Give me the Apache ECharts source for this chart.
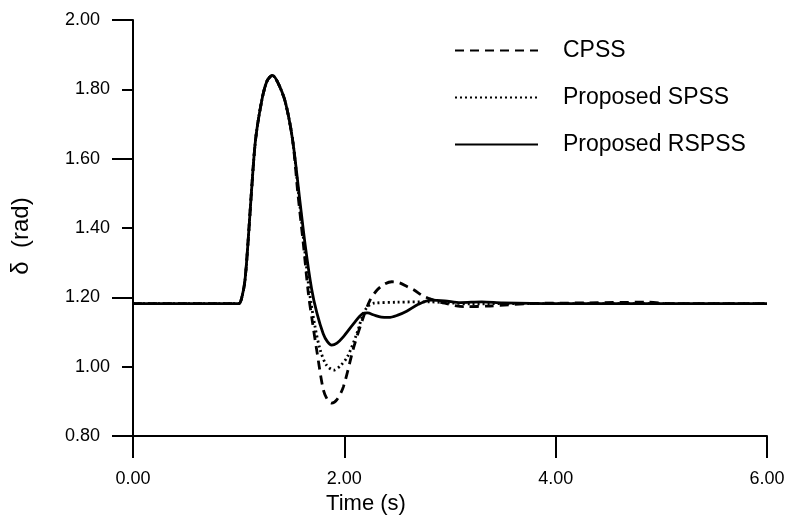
<!DOCTYPE html>
<html>
<head>
<meta charset="utf-8">
<script src="https://cdn.jsdelivr.net/npm/echarts@6/dist/echarts.min.js"></script>
<style>
  html, body { margin: 0; padding: 0; background: #fff; }
  #root { width: 787px; height: 520px; }
</style>
</head>
<body>
<div id="root"></div>
<script>
// series names, as in the legend
const seriesNames = ['CPSS', 'Proposed SPSS', 'Proposed RSPSS']

// the first swing is the same for all three controllers
const riseTime = [0, 1.00, 1.03, 1.06, 1.09, 1.12, 1.16, 1.22, 1.27, 1.32, 1.37, 1.44, 1.51]
const riseDelta = [1.182, 1.182, 1.20, 1.25, 1.365, 1.50, 1.655, 1.77, 1.825, 1.84, 1.82, 1.765, 1.655]

// CPSS (dashed)
const cpssTime = [1.56, 1.61, 1.66, 1.70, 1.74, 1.80, 1.84, 1.88, 1.93, 1.99, 2.09, 2.17, 2.24, 2.31, 2.38, 2.45, 2.52, 2.60, 2.66, 2.74, 2.82, 2.95, 3.13, 3.38, 3.76, 4.30, 4.87, 5.09, 6.00]
const cpssDelta = [1.50, 1.36, 1.21, 1.125, 1.045, 0.935, 0.905, 0.895, 0.905, 0.941, 1.057, 1.134, 1.19, 1.221, 1.238, 1.245, 1.242, 1.230, 1.221, 1.205, 1.195, 1.183, 1.173, 1.175, 1.182, 1.184, 1.186, 1.182, 1.182]

// Proposed SPSS (dotted)
const spssTime = [1.57, 1.62, 1.67, 1.72, 1.77, 1.83, 1.90, 1.96, 2.03, 2.12, 2.18, 2.23, 2.28, 2.50, 2.80, 3.00, 3.20, 3.50, 6.00]
const spssDelta = [1.49, 1.35, 1.215, 1.12, 1.05, 1.005, 0.99, 1.002, 1.029, 1.097, 1.154, 1.176, 1.183, 1.186, 1.187, 1.184, 1.181, 1.182, 1.182]

// Proposed RSPSS (solid)
const rspssTime = [1.575, 1.63, 1.69, 1.74, 1.80, 1.84, 1.88, 1.93, 1.99, 2.09, 2.17, 2.22, 2.28, 2.35, 2.42, 2.50, 2.59, 2.70, 2.82, 2.95, 3.10, 3.30, 3.50, 4.00, 6.00]
const rspssDelta = [1.49, 1.35, 1.225, 1.155, 1.095, 1.072, 1.062, 1.068, 1.086, 1.125, 1.152, 1.155, 1.149, 1.143, 1.142, 1.148, 1.160, 1.180, 1.192, 1.190, 1.185, 1.187, 1.184, 1.182, 1.182]

const xTicks = [0, 2, 4, 6]
const yTicks = [0.8, 1.0, 1.2, 1.4, 1.6, 1.8, 2.0]

const font = "'Liberation Sans', Arial, Helvetica, sans-serif"

function pairs (t1, v1, t2, v2) {
  const out = []
  t1.forEach((t, i) => out.push([t, v1[i]]))
  t2.forEach((t, i) => out.push([t, v2[i]]))
  return out
}

const lineTypes = [[9, 6], [2, 3], 'solid']
const sets = [[cpssTime, cpssDelta], [spssTime, spssDelta], [rspssTime, rspssDelta]]

const seriesList = seriesNames.map((name, i) => ({
  type: 'line',
  name: name,
  smooth: 0.3,
  symbol: 'none',
  z: 3 - i,
  itemStyle: { color: '#000' },
  lineStyle: {
    color: '#000',
    width: 2.8,
    type: lineTypes[i]
  },
  data: pairs(riseTime, riseDelta, sets[i][0], sets[i][1])
}))

const chart = echarts.init(document.getElementById('root'))

const yBase = {
  type: 'value',
  position: 'left',
  min: yTicks[0],
  max: yTicks[yTicks.length - 1],
  splitLine: { show: false }
}

chart.setOption({
  animation: false,
  backgroundColor: '#fff',
  textStyle: { fontFamily: font, color: '#000' },
  grid: { left: 133, right: 20, top: 20, bottom: 84, outerBoundsMode: 'none' },
  legend: {
    orient: 'vertical',
    left: 449,
    top: 34,
    itemWidth: 83,
    itemHeight: 14,
    itemGap: 24,
    data: seriesNames,
    itemStyle: { opacity: 0 },
    textStyle: { fontFamily: font, fontSize: 23, color: '#000', padding: [0, 0, 0, 20] }
  },
  xAxis: {
    type: 'value',
    min: xTicks[0],
    max: xTicks[xTicks.length - 1],
    interval: 2,
    name: 'Time (s)',
    nameLocation: 'middle',
    nameGap: 57,
    nameTextStyle: { fontFamily: font, fontSize: 22, color: '#000', padding: [0, 168, 0, 0] },
    axisLine: { onZero: false, lineStyle: { color: '#000', width: 2 } },
    axisTick: { length: 22, lineStyle: { color: '#000', width: 2 } },
    axisLabel: { margin: 34, fontSize: 18, color: '#000', fontFamily: font, formatter: v => v.toFixed(2) },
    splitLine: { show: false }
  },
  yAxis: [
    Object.assign({}, yBase, {
      interval: 0.2,
      name: 'δ  (rad)',
      nameLocation: 'middle',
      nameGap: 100,
      nameTextStyle: { fontFamily: font, fontSize: 24, color: '#000', padding: [0, 16, 0, 0] },
      axisLine: { show: true, onZero: false, lineStyle: { color: '#000', width: 2 } },
      axisTick: { length: 11, lineStyle: { color: '#000', width: 2 } },
      axisLabel: {
        margin: 23, fontSize: 18, color: '#000', fontFamily: font,
        formatter: v => (Math.round(v * 10) % 4 === 2 ? v.toFixed(2) : '')
      }
    }),
    Object.assign({}, yBase, {
      interval: 0.4,
      axisLine: { show: false },
      axisTick: { length: 21, lineStyle: { color: '#000', width: 2 } },
      axisLabel: { margin: 33, fontSize: 18, color: '#000', fontFamily: font, formatter: v => v.toFixed(2) }
    })
  ],
  series: seriesList
})
</script>
</body>
</html>
